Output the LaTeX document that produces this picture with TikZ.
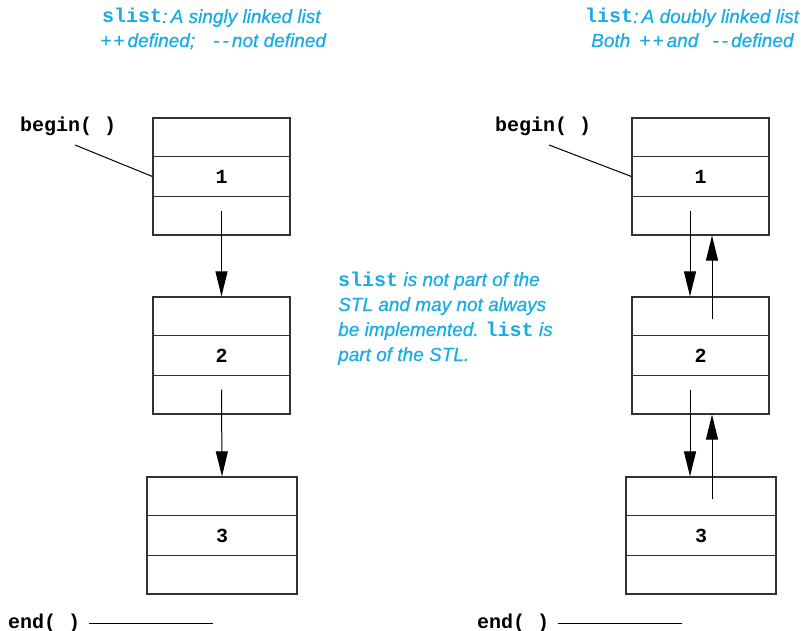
\documentclass[tikz,border=0pt]{standalone}
\usepackage{fontspec}
\setmainfont{Liberation Sans}
\newfontfamily\codefont{Liberation Mono}
\newfontfamily\notefont[FakeBold=0.6,ItalicFont={Liberation Sans Italic}]{Liberation Sans}
\usetikzlibrary{arrows.meta,calc}
\definecolor{notec}{RGB}{25,172,228}
\definecolor{boxc}{RGB}{50,50,50}
\newcommand{\cd}[1]{{\upshape\codefont\bfseries\fontsize{20}{22}\selectfont #1}}
\newcommand{\dd}{-\kern3pt-}
\newcommand{\pp}{+\kern2pt+}
\begin{document}
\begin{tikzpicture}[x=1pt,y=-1pt,
  cell/.style={draw=boxc, line width=1.2pt, minimum width=137pt, minimum height=117pt, inner sep=0pt},
  widecell/.style={cell, minimum width=150pt},
  divider/.style={draw=boxc, line width=1.2pt},
  arr/.style={draw=black, line width=1pt, -{Triangle[length=25pt,width=12pt]}},
  plain/.style={draw=black, line width=1pt},
  code/.style={font=\codefont\bfseries\fontsize{20}{22}\selectfont, inner sep=0pt, anchor=base west},
  num/.style={font=\codefont\bfseries\fontsize{20}{22}\selectfont, inner sep=0pt},
  note/.style={text=notec, font=\notefont\itshape\fontsize{19}{21}\selectfont, inner sep=0pt, anchor=base west}
]
\useasboundingbox (0,0) rectangle (805,631);

% ---------- left: slist ----------
\node[cell] (L1) at (221.5,176.5) {};
\node[cell] (L2) at (221.5,355.5) {};
\node[widecell] (L3) at (222,535.5) {};
\foreach \b in {L1,L2,L3}{
  \draw[divider] ($(\b.north west)+(0,39)$) -- ($(\b.north east)+(0,39)$);
  \draw[divider] ($(\b.south west)+(0,-39)$) -- ($(\b.south east)+(0,-39)$);
}
\node[num] (n1) at (L1.center) {1};
\node[num] (n2) at (L2.center) {2};
\node[num] (n3) at (L3.center) {3};

\coordinate (L1s) at ($(L1.south)+(0,-25)$);
\coordinate (L2s) at ($(L2.south)+(0,-25)$);
\draw[arr] (L1s) -- (L2.north);
\draw[arr] (L2s) -- (L3.north);

\node[code] (lbeg) at (20,132) {begin( )};
\coordinate (lbegt) at (75,145);
\draw[plain] (lbegt) -- (L1.west);
\node[code] (lend) at (8,628) {end( )};
\coordinate (lend1) at (89,623);
\coordinate (lend2) at (213,623);
\draw[plain] (lend1) -- (lend2);

\node[note] (lt1) at (102,23) {\cd{slist}:\,A singly linked list};
\node[note] (lt2) at (100,47) {\pp\,defined;\hspace{18pt}\dd\,not defined};

% ---------- right: list ----------
\node[cell] (R1) at (700.5,176.5) {};
\node[cell] (R2) at (700.5,355.5) {};
\node[widecell] (R3) at (701,535.5) {};
\foreach \b in {R1,R2,R3}{
  \draw[divider] ($(\b.north west)+(0,39)$) -- ($(\b.north east)+(0,39)$);
  \draw[divider] ($(\b.south west)+(0,-39)$) -- ($(\b.south east)+(0,-39)$);
}
\node[num] (m1) at (R1.center) {1};
\node[num] (m2) at (R2.center) {2};
\node[num] (m3) at (R3.center) {3};

\coordinate (R1d) at ($(R1.south)+(-10.5,-25)$);
\coordinate (R2dt) at ($(R2.north)+(-10.5,0)$);
\coordinate (R2u) at ($(R2.north)+(11.5,23)$);
\coordinate (R1ut) at ($(R1.south)+(11.5,0)$);
\draw[arr] (R1d) -- (R2dt);
\draw[arr] (R2u) -- (R1ut);

\coordinate (R2d) at ($(R2.south)+(-10.5,-25)$);
\coordinate (R3dt) at ($(R3.north)+(-11,0)$);
\coordinate (R3u) at ($(R3.north)+(11,23)$);
\coordinate (R2ut) at ($(R2.south)+(11.5,0)$);
\draw[arr] (R2d) -- (R3dt);
\draw[arr] (R3u) -- (R2ut);

\node[code] (rbeg) at (495,132) {begin( )};
\coordinate (rbegt) at (549,145);
\draw[plain] (rbegt) -- (R1.west);
\node[code] (rend) at (477,628) {end( )};
\coordinate (rend1) at (558,623);
\coordinate (rend2) at (682,623);
\draw[plain] (rend1) -- (rend2);

\node[note] (rt1) at (585,23) {\cd{list}:\,A doubly linked list};
\node[note] (rt2) at (591,47) {Both\hspace{9pt}\pp\,and\hspace{14pt}\dd\,defined};

% ---------- middle note ----------
\node[note] (c1) at (338,286) {\cd{slist} is not part of the};
\node[note] (c2) at (338,311) {STL and may not always};
\node[note] (c3) at (338,336) {be implemented. \cd{list} is};
\node[note] (c4) at (338,361) {part of the STL.};
\end{tikzpicture}
\end{document}
